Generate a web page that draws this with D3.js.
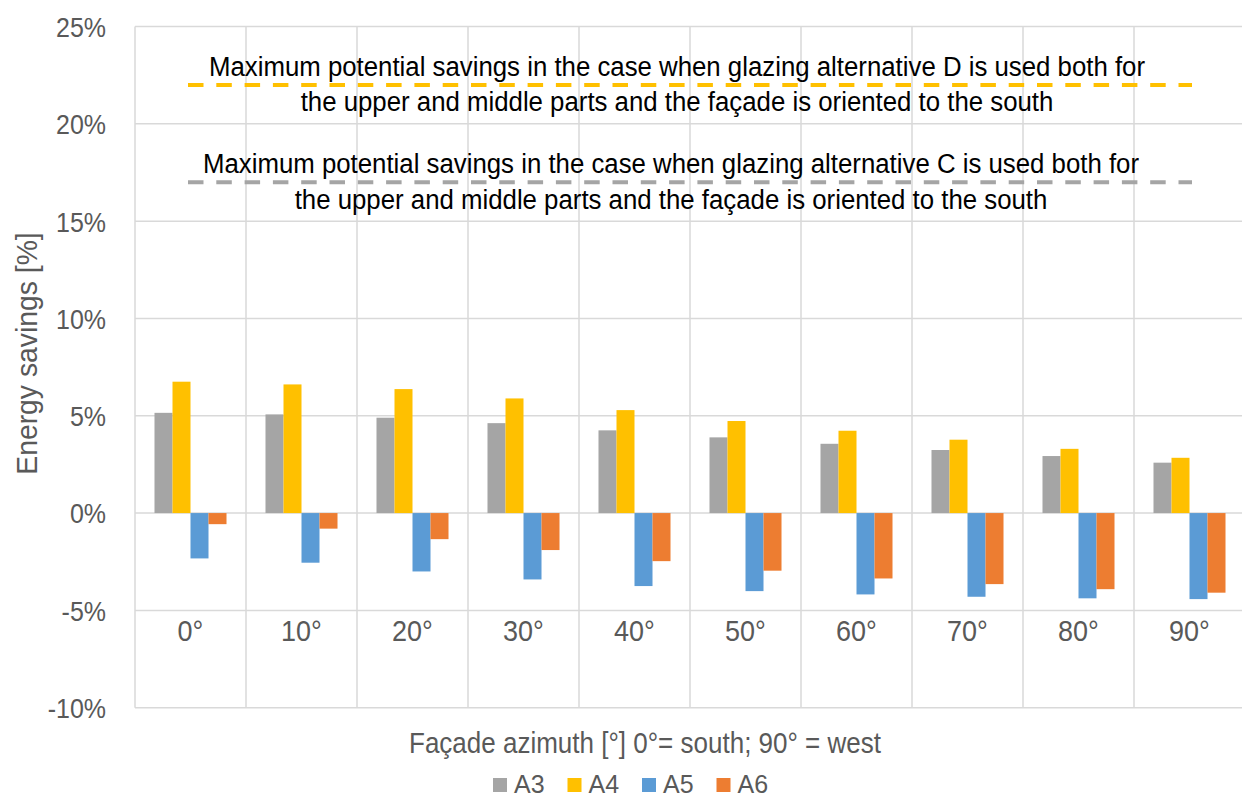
<!DOCTYPE html>
<html>
<head>
<meta charset="utf-8">
<script src="https://cdn.jsdelivr.net/npm/d3@7"></script>
<style>
  html, body { margin: 0; padding: 0; background: #fff; }
  svg { display: block; font-family: "Liberation Sans", Arial, sans-serif; }
</style>
</head>
<body>
<svg id="chart" width="1242" height="801"></svg>
<script>
// Façade azimuth categories and energy savings per glazing alternative [%]
const categories = ["0°", "10°", "20°", "30°", "40°", "50°", "60°", "70°", "80°", "90°"];
const seriesNames = ["A3", "A4", "A5", "A6"];
const a3 = [5.15, 5.07, 4.90, 4.62, 4.25, 3.89, 3.56, 3.24, 2.93, 2.59];
const a4 = [6.75, 6.61, 6.37, 5.89, 5.29, 4.73, 4.23, 3.77, 3.30, 2.84];
const a5 = [-2.33, -2.55, -3.00, -3.41, -3.75, -4.01, -4.18, -4.30, -4.38, -4.42];
const a6 = [-0.57, -0.80, -1.34, -1.90, -2.47, -2.96, -3.36, -3.65, -3.91, -4.09];
const seriesColors = ["#A5A5A5", "#FFC000", "#5B9BD5", "#ED7D31"];
const yTicks = [-10, -5, 0, 5, 10, 15, 20, 25];

// Reference levels: maximum potential savings for glazing alternatives D and C
const refValues = [22, 17];
const refColors = ["#FFC000", "#A5A5A5"];
const refLabels = [
  ["Maximum potential savings in the case when glazing alternative D is used both for",
   "the upper and middle parts and the façade is oriented to the south"],
  ["Maximum potential savings in the case when glazing alternative C is used both for",
   "the upper and middle parts and the façade is oriented to the south"]
];

const yTitle = "Energy savings [%]";
const xTitle = "Façade azimuth [°] 0°= south; 90° = west";

const svg = d3.select("#chart");
const plot = { left: 135, right: 1245, top: 26.5, bottom: 707.7 };
const gridColor = "#D9D9D9";
const textColor = "#595959";
const tall = "scale(1,1.1)"; // slightly condensed look of the chart lettering

const x = d3.scaleBand().domain(categories).range([plot.left, plot.right]).paddingInner(0).paddingOuter(0);
const xs = d3.scaleBand().domain(seriesNames).range([0, x.bandwidth()]).paddingInner(0).paddingOuter(1.083);
const y = d3.scaleLinear().domain([-10, 25]).range([plot.bottom, plot.top]);

// Horizontal gridlines
svg.append("g").selectAll("line").data(yTicks).join("line")
  .attr("x1", plot.left).attr("x2", plot.right)
  .attr("y1", d => y(d)).attr("y2", d => y(d))
  .attr("stroke", gridColor).attr("stroke-width", 1.5);

// Vertical gridlines at category boundaries
const bounds = categories.map(c => x(c)).concat([plot.right]);
svg.append("g").selectAll("line").data(bounds).join("line")
  .attr("x1", d => d).attr("x2", d => d)
  .attr("y1", plot.top).attr("y2", plot.bottom)
  .attr("stroke", gridColor).attr("stroke-width", 1.5);

// Y axis labels
const yAxis = d3.axisLeft(y).tickValues(yTicks).tickFormat(d => d + "%").tickSize(0).tickPadding(0);
const yg = svg.append("g").attr("transform", `translate(${plot.left - 29},0)`).call(yAxis);
yg.select(".domain").remove();
yg.selectAll("text")
  .attr("fill", textColor).attr("font-size", 25)
  .attr("font-family", "'Liberation Sans', Arial, sans-serif")
  .attr("dy", "0.36em")
  .attr("transform", tall);

// Bars
const seriesData = [a3, a4, a5, a6];
const barGroups = svg.append("g").selectAll("g").data(seriesData).join("g")
  .attr("fill", (d, i) => seriesColors[i]);
barGroups.each(function (vals, si) {
  d3.select(this).selectAll("rect").data(vals).join("rect")
    .attr("x", (v, ci) => x(categories[ci]) + xs(seriesNames[si]))
    .attr("width", xs.bandwidth())
    .attr("y", v => y(Math.max(0, v)))
    .attr("height", v => Math.abs(y(v) - y(0)));
});

// X axis category labels
const xAxis = d3.axisBottom(x).tickSize(0).tickPadding(0);
const xg = svg.append("g").attr("transform", `translate(0,${y(-5) + 31})`).call(xAxis);
xg.select(".domain").remove();
xg.selectAll("text")
  .attr("fill", textColor).attr("font-size", 27)
  .attr("font-family", "'Liberation Sans', Arial, sans-serif")
  .attr("dy", 0).attr("y", 0)
  .attr("transform", tall);

// Reference dashed lines with their captions
const refStart = 188, refEnd = 1192;
const refCenters = [677, 671];
function caption(cx, cy, str) {
  svg.append("text")
    .attr("transform", `translate(${cx},${cy}) ${tall}`)
    .attr("text-anchor", "middle").attr("font-size", 25.8).attr("fill", "#000")
    .text(str);
}
refValues.forEach((v, i) => {
  svg.append("line")
    .attr("x1", refStart).attr("x2", refEnd)
    .attr("y1", y(v)).attr("y2", y(v))
    .attr("stroke", refColors[i]).attr("stroke-width", 4)
    .attr("stroke-dasharray", "15.5,12.8");
  caption(refCenters[i], y(v) - 9, refLabels[i][0]);
  caption(refCenters[i], y(v) + 26.5, refLabels[i][1]);
});

// Axis titles
svg.append("text")
  .attr("transform", "translate(37,353.5) rotate(-90) scale(1.03,1.1)")
  .attr("text-anchor", "middle").attr("font-size", 27.5).attr("fill", textColor)
  .text(yTitle);
svg.append("text")
  .attr("transform", `translate(645,753) ${tall}`)
  .attr("text-anchor", "middle").attr("font-size", 26).attr("fill", textColor)
  .text(xTitle);

// Legend
const legendX = 493, legendStep = 74.5;
const legend = svg.append("g").selectAll("g").data(seriesNames).join("g")
  .attr("transform", (d, i) => `translate(${legendX + i * legendStep},0)`);
legend.append("rect")
  .attr("x", 0).attr("y", 778).attr("width", 14).attr("height", 14)
  .attr("fill", (d, i) => seriesColors[i]);
legend.append("text")
  .attr("x", 21).attr("y", 793)
  .attr("font-size", 25).attr("fill", textColor)
  .text(d => d);
</script>
</body>
</html>
